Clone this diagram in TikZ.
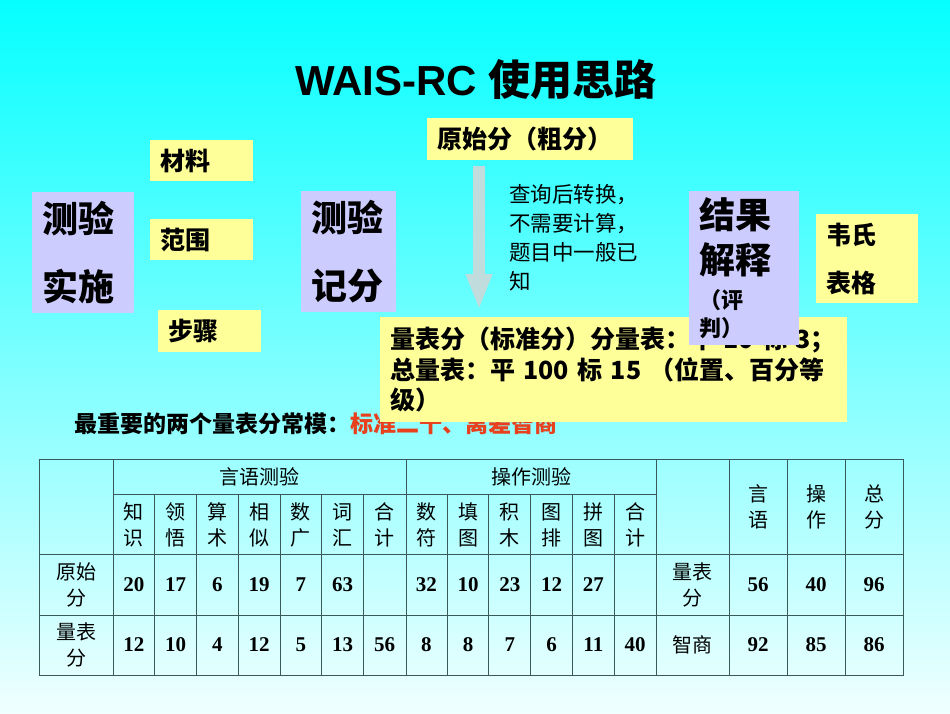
\documentclass[tikz,border=0pt]{standalone}
\usepackage{fontspec}
\usetikzlibrary{arrows.meta,positioning,calc}
\newfontfamily\cjk{Noto Sans CJK SC}
\newfontfamily\arial{Liberation Sans}
\newfontfamily\numserif{Liberation Serif}
\definecolor{bgtop}{HTML}{05FFFF}
\definecolor{bgbottom}{HTML}{F0FFFF}
\definecolor{boxyellow}{HTML}{FFFF99}
\definecolor{boxlilac}{HTML}{CCCCFF}
\definecolor{arrowgrey}{HTML}{C0DCDC}
\definecolor{notered}{HTML}{E8401C}
\definecolor{gridline}{HTML}{3A5A5A}

\begin{document}
\begin{tikzpicture}[x=1pt, y=-1pt,
  tagbox/.style={fill=boxyellow, anchor=north west, inner xsep=10pt, inner ysep=0pt, align=left,
    font=\cjk\bfseries\fontsize{25}{29}\selectfont},
  bigbox/.style={fill=boxlilac, anchor=north west, inner xsep=10pt, inner ysep=0pt, align=left,
    font=\cjk\bfseries\fontsize{36}{68}\selectfont},
  fatarr/.style={-{Triangle[width=24pt, length=36pt]}, line width=12pt, arrowgrey},
  grid/.style={draw=gridline, line width=0.9pt},
  cellcn/.style={inner sep=0pt, align=center, font=\cjk\fontsize{20}{26}\selectfont},
  cellnum/.style={inner sep=0pt, font=\numserif\bfseries\fontsize{21}{24}\selectfont}
]
  \useasboundingbox (0,0) rectangle (950,713);
  \shade[top color=bgtop, bottom color=bgbottom] (0,0) rectangle (950,713);

  \node[font=\fontsize{42}{48}\selectfont] (title) at (476,80) {\arial\bfseries WAIS-RC \cjk\bfseries 使用思路};

  % test administration
  \node[bigbox, text width=82pt, minimum height=121pt] (admin) at (32,192) {测验\\实施};
  \node[tagbox, text width=83pt, minimum height=41pt] (material) at (150,140) {材料};
  \node[tagbox, text width=83pt, minimum height=41pt] (scope) at (150,219) {范围};
  \node[tagbox, text width=83pt, minimum height=42pt] (steps) at (158,310) {步骤};

  % scoring
  \node[bigbox, text width=75pt, minimum height=121pt] (scoring) at (301,191) {测验\\记分};
  \node[tagbox, text width=186pt, minimum height=42pt] (raw) at (427,118) {原始分（粗分）};
  \node[anchor=north west, inner sep=0pt, text width=140pt, align=left,
    font=\cjk\fontsize{21.5}{29}\selectfont] (lookup) at (509,184) {查询后转换，\\不需要计算，\\题目中一般已\\知};

  \node[anchor=west, inner sep=0pt, font=\cjk\bfseries\fontsize{23}{26}\selectfont] (keynote) at (74,424)
    {最重要的两个量表分常模：\textcolor{notered}{标准二十、离差智商}};

  \node[tagbox, text width=447pt, minimum height=105pt, font=\cjk\bfseries\fontsize{25}{30.5}\selectfont] (scaled) at (380,317)
    {量表分（标准分）分量表：平 10 标 3；\\总量表：平 100 标 15 （位置、百分等\\级）};

  \coordinate (arrx) at (479,0);
  \draw[fatarr] ($(raw.south -| arrx)+(0,6)$) -- ($(scaled.north -| arrx)+(0,-7)$);

  % interpretation
  \node[bigbox, text width=90pt, minimum height=154pt] (interp) at (689,191)
    {{\fontsize{36}{45}\selectfont 结果\par 解释\par}\vspace{7pt}{\fontsize{22}{28}\selectfont （评\par 判）\par}};
  \node[tagbox, text width=82pt, minimum height=89pt, font=\cjk\bfseries\fontsize{25}{48}\selectfont] (wechsler) at (816,214) {韦氏\\表格};

  % table
  \draw[grid] (39,459) rectangle (903,675);
  \draw[grid] (113,494) -- (656,494);
  \draw[grid] (39,554) -- (903,554) (39,615) -- (903,615);
  \foreach \x in {113,406,656,729,787,845}
    \draw[grid] (\x,459) -- (\x,675);
  \foreach \i in {1,2,3,4,5,6,8,9,10,11,12}
    \draw[grid] ({113+41.77*\i},494) -- ({113+41.77*\i},675);

  \node[cellcn] (verbal) at (259.5,477) {言语测验};
  \node[cellcn] (perform) at (531,477) {操作测验};
  \foreach \a/\b [count=\i from 0] in {知/识,领/悟,算/术,相/似,数/广,词/汇,合/计,数/符,填/图,积/木,图/排,拼/图,合/计}
    \node[cellcn] (sub\i) at ({113+41.77*(\i+0.5)},525) {\a\\\b};
  \foreach \a/\b [count=\i from 0] in {言/语,操/作,总/分}
    \node[cellcn] (total\i) at ({758+58*\i},507) {\a\\\b};

  \node[cellcn] (rawlbl) at (76,585) {原始\\分};
  \node[cellcn] (scllbl) at (76,645) {量表\\分};
  \node[cellcn] (sumlbl) at (692.5,585) {量表\\分};
  \node[cellcn] (iqlbl) at (692.5,645) {智商};

  \foreach \i/\v in {0/20,1/17,2/6,3/19,4/7,5/63,7/32,8/10,9/23,10/12,11/27}
    \node[cellnum] (r\i) at ({113+41.77*(\i+0.5)},585) {\v};
  \foreach \v [count=\i from 0] in {12,10,4,12,5,13,56,8,8,7,6,11,40}
    \node[cellnum] (s\i) at ({113+41.77*(\i+0.5)},645) {\v};
  \foreach \v [count=\i from 0] in {56,40,96}
    \node[cellnum] (ts\i) at ({758+58*\i},585) {\v};
  \foreach \v [count=\i from 0] in {92,85,86}
    \node[cellnum] (iq\i) at ({758+58*\i},645) {\v};
\end{tikzpicture}
\end{document}
